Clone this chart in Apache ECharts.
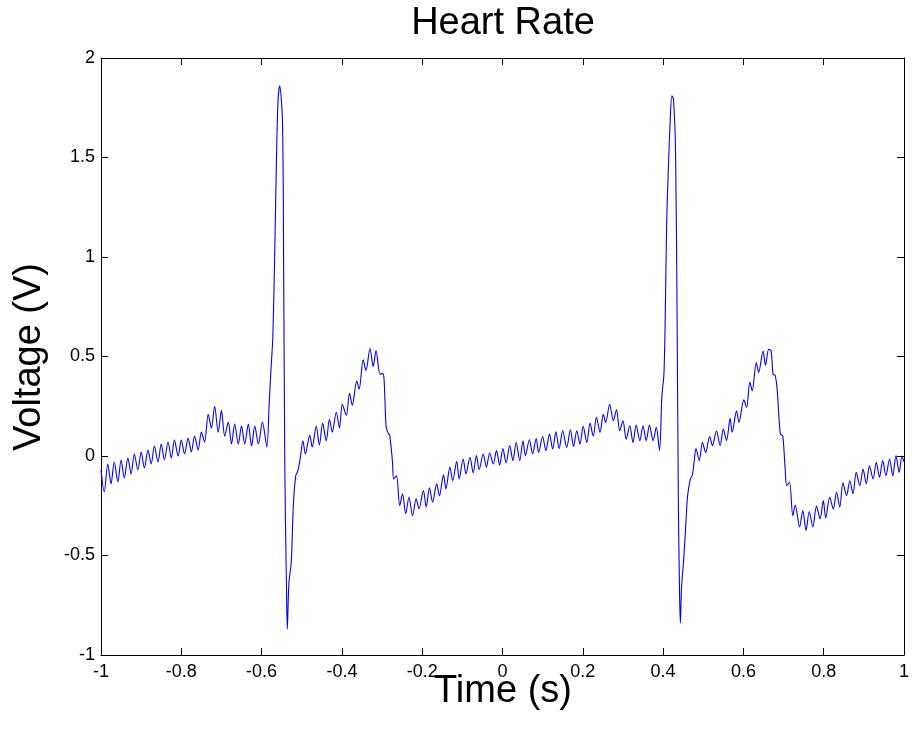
<!DOCTYPE html>
<html>
<head>
<meta charset="utf-8">
<script src="https://cdn.jsdelivr.net/npm/echarts@6/dist/echarts.min.js"></script>
<style>
html,body{margin:0;padding:0;background:#fff;}
#chart{width:912px;height:733px;}
</style>
</head>
<body>
<div id="chart"></div>
<script>
// Sample times (s)
const timeS = [
-1.000,-0.992,-0.983,-0.975,-0.967,-0.958,-0.950,-0.942,-0.933,-0.925,-0.917,-0.908,-0.900,-0.892,-0.883,-0.875,-0.867,-0.858,-0.850,-0.842,
-0.833,-0.825,-0.817,-0.808,-0.800,-0.792,-0.783,-0.775,-0.767,-0.758,-0.750,-0.742,-0.733,-0.725,-0.717,-0.708,-0.700,-0.692,-0.683,-0.675,
-0.667,-0.658,-0.650,-0.642,-0.633,-0.625,-0.617,-0.608,-0.598,-0.587,
-0.581,-0.577,-0.572,-0.567,-0.563,-0.559,-0.555,-0.548,-0.545,-0.542,-0.538,-0.536,-0.532,-0.526,-0.521,-0.515,-0.509,-0.503,
-0.497,-0.491,-0.480,-0.474,-0.464,-0.456,-0.448,-0.439,-0.431,-0.424,-0.414,-0.406,-0.399,-0.389,-0.381,-0.374,-0.363,-0.357,-0.347,-0.340,
-0.330,-0.322,-0.315,-0.305,-0.299,-0.295,-0.290,-0.285,-0.281,-0.274,-0.271,-0.264,-0.256,-0.249,-0.241,-0.233,-0.224,-0.215,-0.208,-0.197,
-0.190,-0.182,-0.174,-0.164,-0.157,-0.147,-0.141,-0.131,-0.124,-0.114,-0.108,-0.098,-0.091,-0.081,-0.073,-0.065,-0.058,-0.048,-0.040,-0.032,
-0.023,-0.015,-0.007,0.001,0.009,0.018,0.026,0.034,0.043,0.051,0.057,0.067,0.075,0.084,0.090,0.100,0.108,0.117,0.125,0.133,
0.141,0.150,0.160,0.169,0.177,0.185,0.193,0.201,0.210,0.218,0.226,0.234,0.243,0.251,0.257,0.267,0.276,0.284,0.292,0.300,
0.308,0.317,0.325,0.333,0.342,0.350,0.358,0.366,0.375,0.383,0.391,
0.397,0.402,0.405,0.409,0.413,0.418,0.422,0.426,0.431,0.435,0.438,0.441,0.443,0.446,0.452,0.457,0.461,0.468,0.473,0.478,
0.482,0.490,0.498,0.506,0.516,0.523,0.533,0.542,0.550,0.558,0.567,0.572,0.583,0.589,0.601,0.608,0.616,0.622,0.632,0.638,
0.649,0.655,0.663,0.669,0.674,0.679,0.684,0.692,0.698,0.704,0.708,0.715,0.723,0.729,0.740,0.748,0.756,0.764,0.773,0.782,
0.791,0.799,0.805,0.815,0.824,0.832,0.840,0.848,0.857,0.865,0.873,0.881,0.890,0.898,0.906,0.914,0.923,0.931,0.939,0.947,
0.955,0.964,0.972,0.980,0.988,0.995,1.000
];
// Voltage (V)
const voltageV = [
-0.07,-0.18,-0.04,-0.14,-0.03,-0.13,-0.02,-0.11,-0.01,-0.09,0.01,-0.07,0.02,-0.06,0.03,-0.04,0.05,-0.03,0.06,-0.02,
0.07,-0.01,0.08,0.00,0.08,0.01,0.09,0.02,0.10,0.03,0.12,0.07,0.21,0.14,0.25,0.12,0.23,0.10,0.17,0.06,
0.16,0.06,0.15,0.06,0.16,0.05,0.15,0.06,0.17,0.046,
0.27,0.42,0.60,1.05,1.49,1.79,1.86,1.68,0.92,-0.10,-0.66,-0.87,-0.64,-0.53,-0.25,-0.10,-0.07,0.00,
0.077,0.01,0.105,0.045,0.15,0.055,0.165,0.077,0.185,0.12,0.22,0.14,0.26,0.205,0.315,0.255,0.377,0.336,0.483,0.43,
0.54,0.45,0.53,0.41,0.415,0.386,0.15,0.115,0.105,-0.03,-0.115,-0.10,-0.25,-0.19,-0.29,-0.207,-0.30,-0.215,-0.265,-0.174,
-0.257,-0.16,-0.232,-0.14,-0.20,-0.095,-0.165,-0.056,-0.124,-0.028,-0.115,-0.015,-0.09,-0.006,-0.085,0.002,-0.068,0.01,-0.056,0.015,
-0.04,0.027,-0.045,0.038,-0.035,0.052,-0.023,0.068,-0.023,0.077,0.002,0.082,0.01,0.088,0.018,0.098,0.027,0.11,0.035,0.122,
0.038,0.127,0.043,0.132,0.048,0.127,0.06,0.149,0.068,0.165,0.10,0.194,0.119,0.21,0.169,0.26,0.177,0.232,0.127,0.177,
0.085,0.152,0.068,0.155,0.077,0.152,0.077,0.155,0.077,0.144,0.027,
0.30,0.41,0.66,1.18,1.44,1.70,1.81,1.79,1.53,0.66,-0.22,-0.69,-0.84,-0.66,-0.50,-0.33,-0.20,-0.115,-0.095,-0.015,
0.038,-0.023,0.068,0.018,0.098,0.052,0.127,0.052,0.135,0.077,0.189,0.119,0.227,0.169,0.282,0.244,0.372,0.327,0.47,0.42,
0.528,0.456,0.536,0.528,0.41,0.406,0.336,0.11,0.102,-0.065,-0.149,-0.132,-0.30,-0.246,-0.357,-0.274,-0.374,-0.279,-0.357,-0.252,
-0.316,-0.224,-0.312,-0.207,-0.266,-0.182,-0.257,-0.135,-0.199,-0.124,-0.19,-0.082,-0.149,-0.065,-0.14,-0.049,-0.115,-0.032,-0.107,-0.023,
-0.099,-0.015,-0.099,0.002,-0.082,0.0,-0.03
];
const xTicks = [-1, -0.8, -0.6, -0.4, -0.2, 0, 0.2, 0.4, 0.6, 0.8, 1];
const yTicks = [-1, -0.5, 0, 0.5, 1, 1.5, 2];
const titleText = 'Heart Rate';
const xName = 'Time (s)';
const yName = 'Voltage (V)';

const points = timeS.map((t, i) => [t, voltageV[i]]);
const FONT = '"Liberation Sans", Arial, sans-serif';

const chart = echarts.init(document.getElementById('chart'), null, {renderer: 'canvas'});
const axisCommon = {
  type: 'value',
  axisLine: {show: true, onZero: false, lineStyle: {color: '#000', width: 1}},
  axisTick: {show: true, inside: true, length: 7, lineStyle: {color: '#000', width: 1}},
  splitLine: {show: false}
};
chart.setOption({
  animation: false,
  backgroundColor: '#ffffff',
  grid: {left: 101, right: 4, top: 58, bottom: 78, containLabel: false},
  xAxis: [
    Object.assign({}, axisCommon, {
      position: 'bottom', min: xTicks[0], max: xTicks[xTicks.length - 1], interval: 0.2,
      axisLabel: {color: '#000', fontSize: 18, fontFamily: FONT, margin: 8}
    }),
    Object.assign({}, axisCommon, {
      position: 'top', min: xTicks[0], max: xTicks[xTicks.length - 1], interval: 0.2,
      axisLabel: {show: false}
    })
  ],
  yAxis: [
    Object.assign({}, axisCommon, {
      position: 'left', min: yTicks[0], max: yTicks[yTicks.length - 1], interval: 0.5,
      axisLabel: {color: '#000', fontSize: 18, fontFamily: FONT, margin: 6}
    }),
    Object.assign({}, axisCommon, {
      position: 'right', min: yTicks[0], max: yTicks[yTicks.length - 1], interval: 0.5,
      axisLabel: {show: false}
    })
  ],
  series: [{
    type: 'line',
    xAxisIndex: 0, yAxisIndex: 0,
    data: points,
    showSymbol: false,
    smooth: 0.3,
    lineStyle: {color: '#0000ff', width: 1.1},
    itemStyle: {color: '#0000ff'}
  }],
  graphic: [
    {type: 'text', x: 503, y: 24, style: {text: titleText, font: '38px ' + FONT, fill: '#000', align: 'center', verticalAlign: 'middle'}},
    {type: 'text', x: 503, y: 692, style: {text: xName, font: '38px ' + FONT, fill: '#000', align: 'center', verticalAlign: 'middle'}},
    {type: 'text', x: 29.5, y: 357, rotation: Math.PI / 2, style: {text: yName, font: '38px ' + FONT, fill: '#000', align: 'center', verticalAlign: 'middle'}}
  ]
});
</script>
</body>
</html>
